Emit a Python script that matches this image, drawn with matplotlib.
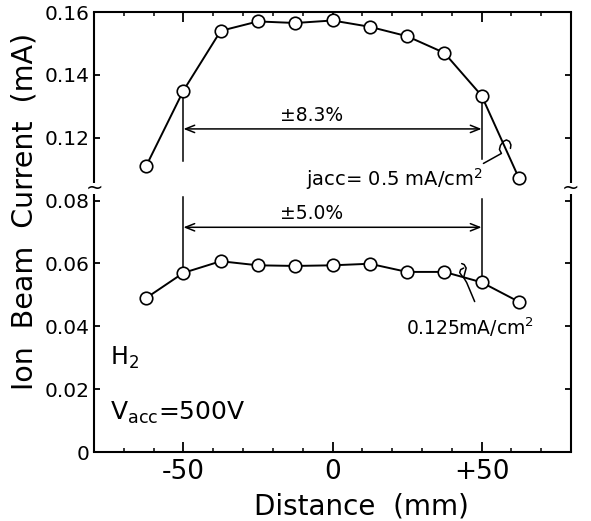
import matplotlib
matplotlib.use("Agg")
import matplotlib.pyplot as plt
import matplotlib.transforms as mtransforms
from matplotlib.patches import FancyArrowPatch
from matplotlib.path import Path
from matplotlib.patches import PathPatch
import numpy as np

# ---- data ----
distance_mm = [-62.5, -50, -37.5, -25, -12.5, 0, 12.5, 25, 37.5, 50, 62.5]
current_high = [0.111, 0.135, 0.154, 0.157, 0.1565, 0.1573, 0.1553, 0.1523, 0.147, 0.1334, 0.1072]  # jacc=0.5 mA/cm2
current_low = [0.049, 0.057, 0.0607, 0.0594, 0.0592, 0.0594, 0.0599, 0.0573, 0.0573, 0.054, 0.0478]  # 0.125 mA/cm2
ytick_vals = [0, 0.02, 0.04, 0.06, 0.08, 0.12, 0.14, 0.16]
ytick_labels = ["0", "0.02", "0.04", "0.06", "0.08", "0.12", "0.14", "0.16"]
xtick_vals = [-50, 0, 50]
xtick_labels = ["-50", "0", "+50"]
BREAK_SHIFT = 0.02  # values above the axis break are drawn 0.02 lower


def to_axis(v):
    v = np.asarray(v, dtype=float)
    return np.where(v > 0.1, v - BREAK_SHIFT, v)


plt.rcParams['font.family'] = ['DejaVu Sans']
fig = plt.figure(figsize=(5.91, 5.21), dpi=100)
ax = fig.add_axes([94 / 591, 1 - 452 / 521, (571 - 94) / 591, (452 - 12) / 521])

ax.set_xlim(-80, 80)
ax.set_ylim(0, 0.14)

line_kw = dict(color='black', lw=1.4, marker='o', ms=9, mfc='white', mec='black', mew=1.2, zorder=3)
ax.plot(distance_mm, to_axis(current_high), **line_kw)
ax.plot(distance_mm, to_axis(current_low), **line_kw)

# ticks
ax.set_xticks(xtick_vals)
ax.set_xticklabels(xtick_labels, fontsize=19)
ax.set_xticks(np.arange(-70, 71, 10), minor=True)
ax.set_yticks(to_axis(ytick_vals))
ax.set_yticklabels(ytick_labels, fontsize=14.5)
ax.tick_params(axis='x', which='major', direction='in', length=7, width=1.3, top=True, pad=5)
ax.tick_params(axis='x', which='minor', direction='in', length=3, width=1.1, top=True)
ax.tick_params(axis='y', which='major', direction='in', length=4.5, width=1.3, right=True, pad=3)
ax.tick_params(axis='y', which='minor', left=False, right=False)

# spines: left/right broken
for s in ['top', 'bottom']:
    ax.spines[s].set_linewidth(1.5)
ax.spines['left'].set_visible(False)
ax.spines['right'].set_visible(False)
gap_lo = 0.0822 / 0.14
gap_hi = 0.0857 / 0.14
for xs in (0, 1):
    ax.plot([xs, xs], [0, gap_lo], transform=ax.transAxes, color='black', lw=1.5, clip_on=False, solid_capstyle='butt')
    ax.plot([xs, xs], [gap_hi, 1], transform=ax.transAxes, color='black', lw=1.5, clip_on=False, solid_capstyle='butt')
    ax.text(xs, (gap_lo + gap_hi) / 2, "~", transform=ax.transAxes, ha='center', va='center', fontsize=15)

# uniformity markers
hi_ax = to_axis(current_high)
lo_ax = to_axis(current_low)
i_m50 = distance_mm.index(-50)
i_p50 = distance_mm.index(50)
ax.plot([-50, -50], [hi_ax[i_m50] - 0.0015, 0.0927], color='black', lw=1.1)
ax.plot([50, 50], [hi_ax[i_p50] - 0.0015, 0.0933], color='black', lw=1.1)
ax.plot([-50, -50], [0.0810, lo_ax[i_m50] + 0.0015], color='black', lw=1.1)
ax.plot([50, 50], [0.0805, lo_ax[i_p50] + 0.0015], color='black', lw=1.1)
for yy in (0.1028, 0.0715):
    arr = FancyArrowPatch((-50, yy), (50, yy), arrowstyle='<->,head_length=0.55,head_width=0.22',
                          mutation_scale=12, lw=1.1, color='black', shrinkA=0, shrinkB=0)
    ax.add_patch(arr)
ax.text(-7, 0.1072, "±8.3%", ha='center', va='center', fontsize=13.5)
ax.text(-7, 0.0760, "±5.0%", ha='center', va='center', fontsize=13.5)

# labels for curves
ax.text(50.5, 0.0848, "jacc= 0.5 mA/cm$^2$", ha='right', va='baseline', fontsize=14)
ax.text(67.5, 0.0371, "0.125mA/cm$^2$", ha='right', va='baseline', fontsize=13.5)

# leader lines + small curl marks (in pixel offsets)
def curl(anchor_x, anchor_y, pts_px):
    trans = mtransforms.Affine2D().scale(1 / 100.0) + fig.dpi_scale_trans + \
        mtransforms.ScaledTranslation(anchor_x, anchor_y, ax.transData)
    verts = np.array(pts_px, dtype=float)
    codes = [Path.MOVETO] + [Path.LINETO] * (len(verts) - 1)
    ax.add_patch(PathPatch(Path(verts, codes), transform=trans, fill=False, lw=1.1,
                           edgecolor='black', capstyle='round', joinstyle='round'))

# upper curl anchored at x=57 (axis units)
curl(57, 0.0950, [(-19, -10), (-1, 0), (-3, 4), (-2, 8), (1, 12), (4, 13.5), (7, 12), (8.5, 8.5), (8, 5)])
# lower curl anchored near x=44
curl(44, 0.0555, [(11, -24), (3, -5), (0, 0), (-2, 2), (-4, 5), (-3, 8), (0, 9.5)])
curl(44, 0.0555, [(0, 0), (1, 4), (2.5, 9.5), (0.5, 13), (-2, 14)])

# gas / voltage
ax.text(-74.5, 0.0276, "H$_2$", ha='left', va='baseline', fontsize=17)
ax.text(-74.5, 0.0102, "V$_{\\mathrm{acc}}$=500V", ha='left', va='baseline', fontsize=18)

# axis labels
fig.text(25 / 591, 1 - 211 / 521, "Ion  Beam  Current  (mA)", rotation=90, ha='center', va='center', fontsize=20.5)
fig.text(361 / 591, 1 - 507 / 521, "Distance  (mm)", ha='center', va='center', fontsize=20)

fig.savefig("out.png", dpi=100)
